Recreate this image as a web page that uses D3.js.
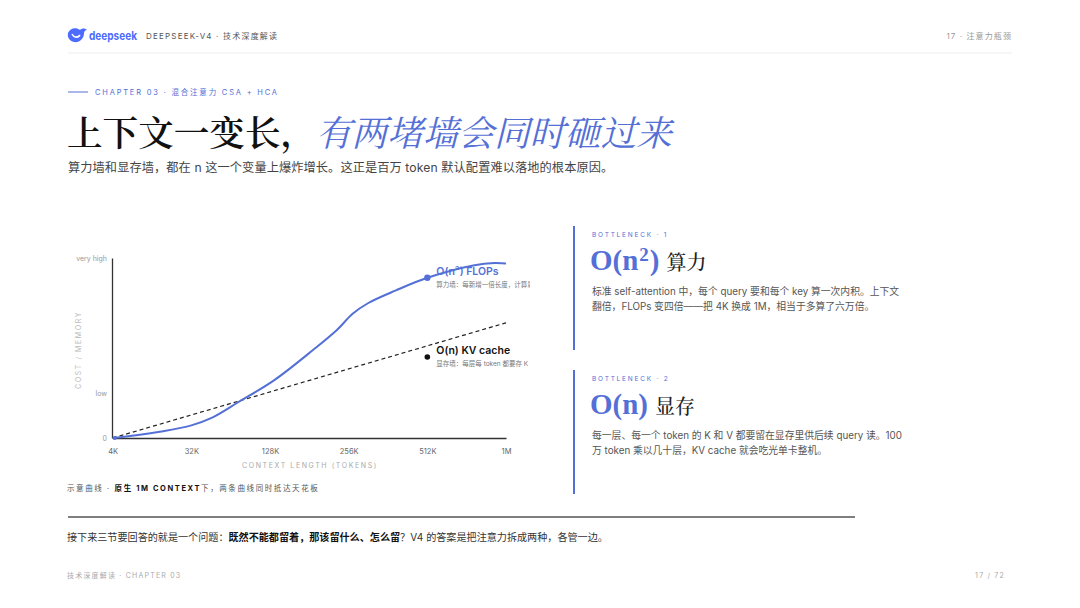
<!DOCTYPE html>
<html lang="zh">
<head>
<meta charset="UTF-8">
<title>DeepSeek-V4 · 注意力瓶颈</title>
<script src="https://d3js.org/d3.v7.min.js"></script>
<style>
  html, body { margin: 0; padding: 0; background: #fff; }
  svg { display: block; }
</style>
</head>
<body>
<div id="page"></div>
<script>
// ---- chart data ----
const xLabels = ["4K", "32K", "128K", "256K", "512K", "1M"];
const xPositions = [0, 1, 2, 3, 4, 5];
const yTickValues = [0, 0.25, 1];
const yTickLabels = ["0", "low", "very high"];

// O(n²) FLOPs curve: position along the tick index, relative cost
const flopsPos = [0, 0.3, 0.6, 1.0, 1.25, 1.6, 2.05, 2.55, 2.85, 3.05, 3.25, 3.6, 4.0, 4.6, 4.85, 5.0];
const flopsVal = [0, 0.015, 0.035, 0.07, 0.11, 0.2, 0.32, 0.49, 0.6, 0.69, 0.75, 0.82, 0.89, 0.96, 0.972, 0.97];
// O(n) KV cache: straight dashed line
const kvPos = [0, 5];
const kvVal = [0, 0.64];
// annotation markers
const flopsMarker = { pos: 4.0, val: 0.89 };
const kvMarker = { pos: 4.0, val: 0.45 };

const W = 1080, H = 608;
const blue = "#5470d6";
const sans = "Inter, 'Noto Sans CJK SC', sans-serif";
const serifCJK = "'Noto Serif CJK SC', 'Noto Sans CJK SC', serif";

const svg = d3.select("#page").append("svg").attr("width", W).attr("height", H)
  .attr("font-family", sans);

// ---- header ----
const logo = svg.append("g").attr("transform", "translate(67,27)");
logo.append("path")
  .attr("d", "M1,6 C3,1 9,0 13,3 C15,1 18,1 20,3 C18,3 17,5 17,6 C17,12 12,16 7,15 C3,14 0,11 1,6 Z")
  .attr("fill", "#4d6bfe");
logo.append("path")
  .attr("d", "M5,7 C7,11 11,11 13,8")
  .attr("fill", "none").attr("stroke", "#fff").attr("stroke-width", 1.6);
svg.append("text").attr("x", 89).attr("y", 40)
  .attr("font-size", 12).attr("font-weight", 700).attr("fill", "#4d6bfe")
  .attr("textLength", 48).attr("lengthAdjust", "spacingAndGlyphs").text("deepseek");
svg.append("text").attr("x", 146).attr("y", 39)
  .attr("font-size", 8).attr("fill", "#555").attr("letter-spacing", 1.2)
  .text("DEEPSEEK-V4 · 技术深度解读");
svg.append("text").attr("x", 1012).attr("y", 39).attr("text-anchor", "end")
  .attr("font-size", 8).attr("fill", "#999").attr("letter-spacing", 1.1)
  .text("17 · 注意力瓶颈");
svg.append("line").attr("x1", 68).attr("x2", 1012).attr("y1", 53).attr("y2", 53)
  .attr("stroke", "#eeeeee");

// ---- chapter + title ----
svg.append("line").attr("x1", 68).attr("x2", 88).attr("y1", 92).attr("y2", 92)
  .attr("stroke", blue).attr("stroke-width", 1);
svg.append("text").attr("x", 95).attr("y", 95)
  .attr("font-size", 7.5).attr("fill", blue).attr("letter-spacing", 1.8)
  .text("CHAPTER 03 · 混合注意力 CSA + HCA");

const title = svg.append("text").attr("x", 67).attr("y", 146)
  .attr("font-size", 35.6).attr("font-family", serifCJK);
title.append("tspan").attr("fill", "#111").attr("font-weight", 600).text("上下文一变长，");
title.append("tspan").attr("fill", blue).attr("font-style", "italic").attr("font-weight", 400)
  .text("有两堵墙会同时砸过来");

svg.append("text").attr("x", 68).attr("y", 172)
  .attr("font-size", 12.2).attr("fill", "#444").attr("letter-spacing", 0.1)
  .text("算力墙和显存墙，都在 n 这一个变量上爆炸增长。这正是百万 token 默认配置难以落地的根本原因。");

// ---- chart ----
const m = { left: 112, right: 506, top: 258, bottom: 438 };
const x = d3.scaleLinear().domain([0, 5]).range([m.left + 0.7, m.right]);
const y = d3.scaleLinear().domain([0, 1]).range([m.bottom, m.top]);

svg.append("clipPath").attr("id", "chartClip")
  .append("rect").attr("x", 60).attr("y", 240).attr("width", 470).attr("height", 240);
const chart = svg.append("g").attr("clip-path", "url(#chartClip)");

const xAxis = chart.append("g").attr("transform", `translate(0,${m.bottom})`)
  .call(d3.axisBottom(x).tickValues(xPositions).tickFormat(i => xLabels[i])
    .tickSize(0).tickPadding(11));
xAxis.select(".domain").attr("stroke", "#333").attr("stroke-width", 1.3);
xAxis.selectAll("text").attr("font-size", 7.5).attr("fill", "#666").attr("font-family", sans);

const yAxis = chart.append("g").attr("transform", `translate(${m.left},0)`)
  .call(d3.axisLeft(y).tickValues(yTickValues).tickFormat((d, i) => yTickLabels[i])
    .tickSize(0).tickPadding(5));
yAxis.select(".domain").attr("stroke", "#333").attr("stroke-width", 1.3);
yAxis.selectAll("text").attr("font-size", 7).attr("fill", "#999").attr("font-family", sans);

chart.append("text").attr("transform", "translate(81,350) rotate(-90)")
  .attr("text-anchor", "middle").attr("font-size", 7).attr("fill", "#bbb")
  .attr("letter-spacing", 1.6).text("COST / MEMORY");
chart.append("text").attr("x", 310).attr("y", 468).attr("text-anchor", "middle")
  .attr("font-size", 7).attr("fill", "#aaa").attr("letter-spacing", 1.6)
  .text("CONTEXT LENGTH (TOKENS)");

// KV cache line
const kvLine = d3.line().x((d, i) => x(kvPos[i])).y(d => y(d));
chart.append("path").datum(kvVal).attr("d", kvLine)
  .attr("fill", "none").attr("stroke", "#222").attr("stroke-width", 1.2)
  .attr("stroke-dasharray", "4,3");

// FLOPs curve
const flopsLine = d3.line().x((d, i) => x(flopsPos[i])).y(d => y(d))
  .curve(d3.curveCatmullRom.alpha(0.5));
chart.append("path").datum(flopsVal).attr("d", flopsLine)
  .attr("fill", "none").attr("stroke", blue).attr("stroke-width", 2);

// markers and labels
chart.append("circle").attr("cx", x(0) + 2).attr("cy", y(0)).attr("r", 2).attr("fill", blue);
chart.append("circle").attr("cx", x(flopsMarker.pos)).attr("cy", y(flopsMarker.val))
  .attr("r", 3.2).attr("fill", blue);
chart.append("text").attr("x", x(flopsMarker.pos) + 9).attr("y", y(flopsMarker.val) - 3)
  .attr("font-size", 10.5).attr("font-weight", 600).attr("fill", blue).text("O(n²) FLOPs");
chart.append("text").attr("x", x(flopsMarker.pos) + 9).attr("y", y(flopsMarker.val) + 9)
  .attr("font-size", 6.5).attr("fill", "#777").text("算力墙：每新增一倍长度，计算量翻四倍");

chart.append("circle").attr("cx", x(kvMarker.pos)).attr("cy", y(kvMarker.val))
  .attr("r", 2.8).attr("fill", "#111");
chart.append("text").attr("x", x(kvMarker.pos) + 9).attr("y", y(kvMarker.val) - 3)
  .attr("font-size", 10.5).attr("font-weight", 600).attr("fill", "#111").text("O(n) KV cache");
chart.append("text").attr("x", x(kvMarker.pos) + 9).attr("y", y(kvMarker.val) + 9)
  .attr("font-size", 6.5).attr("fill", "#777").text("显存墙：每层每 token 都要存 K / V");

const cap = svg.append("text").attr("x", 67).attr("y", 491).attr("font-size", 7.5).attr("fill", "#555")
  .attr("letter-spacing", 1.6);
cap.append("tspan").text("示意曲线 · ");
cap.append("tspan").attr("font-weight", 700).attr("fill", "#111").text("原生 1M CONTEXT");
cap.append("tspan").text("下，两条曲线同时抵达天花板");

// ---- right panels ----
const panels = [
  { top: 226, label: "BOTTLENECK · 1", big: "O(n", sup: "2", cn: "算力",
    lines: ["标准 self-attention 中，每个 query 要和每个 key 算一次内积。上下文",
            "翻倍，FLOPs 变四倍——把 4K 换成 1M，相当于多算了六万倍。"] },
  { top: 370, label: "BOTTLENECK · 2", big: "O(n", sup: "", cn: "显存",
    lines: ["每一层、每一个 token 的 K 和 V 都要留在显存里供后续 query 读。100",
            "万 token 乘以几十层，KV cache 就会吃光单卡整机。"] }
];
panels.forEach(p => {
  const g = svg.append("g").attr("transform", `translate(0,${p.top})`);
  g.append("line").attr("x1", 574).attr("x2", 574).attr("y1", 0).attr("y2", 124)
    .attr("stroke", blue).attr("stroke-width", 2);
  g.append("text").attr("x", 592).attr("y", 11).attr("font-size", 6.5).attr("fill", blue)
    .attr("letter-spacing", 1.8).text(p.label);
  const h = g.append("text").attr("x", 590).attr("y", 44)
    .attr("font-family", "'Liberation Serif', 'DejaVu Serif', serif")
    .attr("font-weight", 700).attr("fill", blue);
  h.append("tspan").attr("font-size", 29).text(p.big);
  if (p.sup) {
    h.append("tspan").attr("font-size", 19).attr("dx", 1).attr("dy", -9).text(p.sup);
    h.append("tspan").attr("font-size", 29).attr("dx", 1).attr("dy", 9).text(")");
  } else {
    h.append("tspan").attr("font-size", 29).text(")");
  }
  h.append("tspan").attr("dx", 7).attr("font-family", serifCJK)
    .attr("font-weight", 500).attr("font-size", 20).attr("fill", "#222").text(p.cn);
  p.lines.forEach((t, i) => {
    g.append("text").attr("x", 592).attr("y", 69 + i * 15).attr("font-size", 9.8)
      .attr("fill", "#555").text(t);
  });
});

// ---- bottom ----
svg.append("line").attr("x1", 68).attr("x2", 855).attr("y1", 517).attr("y2", 517)
  .attr("stroke", "#555").attr("stroke-width", 1.5);
const q = svg.append("text").attr("x", 67).attr("y", 541).attr("font-size", 10.1).attr("fill", "#333");
q.append("tspan").text("接下来三节要回答的就是一个问题：");
q.append("tspan").attr("font-weight", 700).attr("fill", "#111").text("既然不能都留着，那该留什么、怎么留");
q.append("tspan").text("？V4 的答案是把注意力拆成两种，各管一边。");

svg.append("text").attr("x", 67).attr("y", 578).attr("font-size", 7).attr("fill", "#aaa")
  .attr("letter-spacing", 1.2).text("技术深度解读 · CHAPTER 03");
svg.append("text").attr("x", 1005).attr("y", 578).attr("text-anchor", "end").attr("font-size", 7)
  .attr("fill", "#aaa").attr("letter-spacing", 1.2).text("17 / 72");
</script>
</body>
</html>
